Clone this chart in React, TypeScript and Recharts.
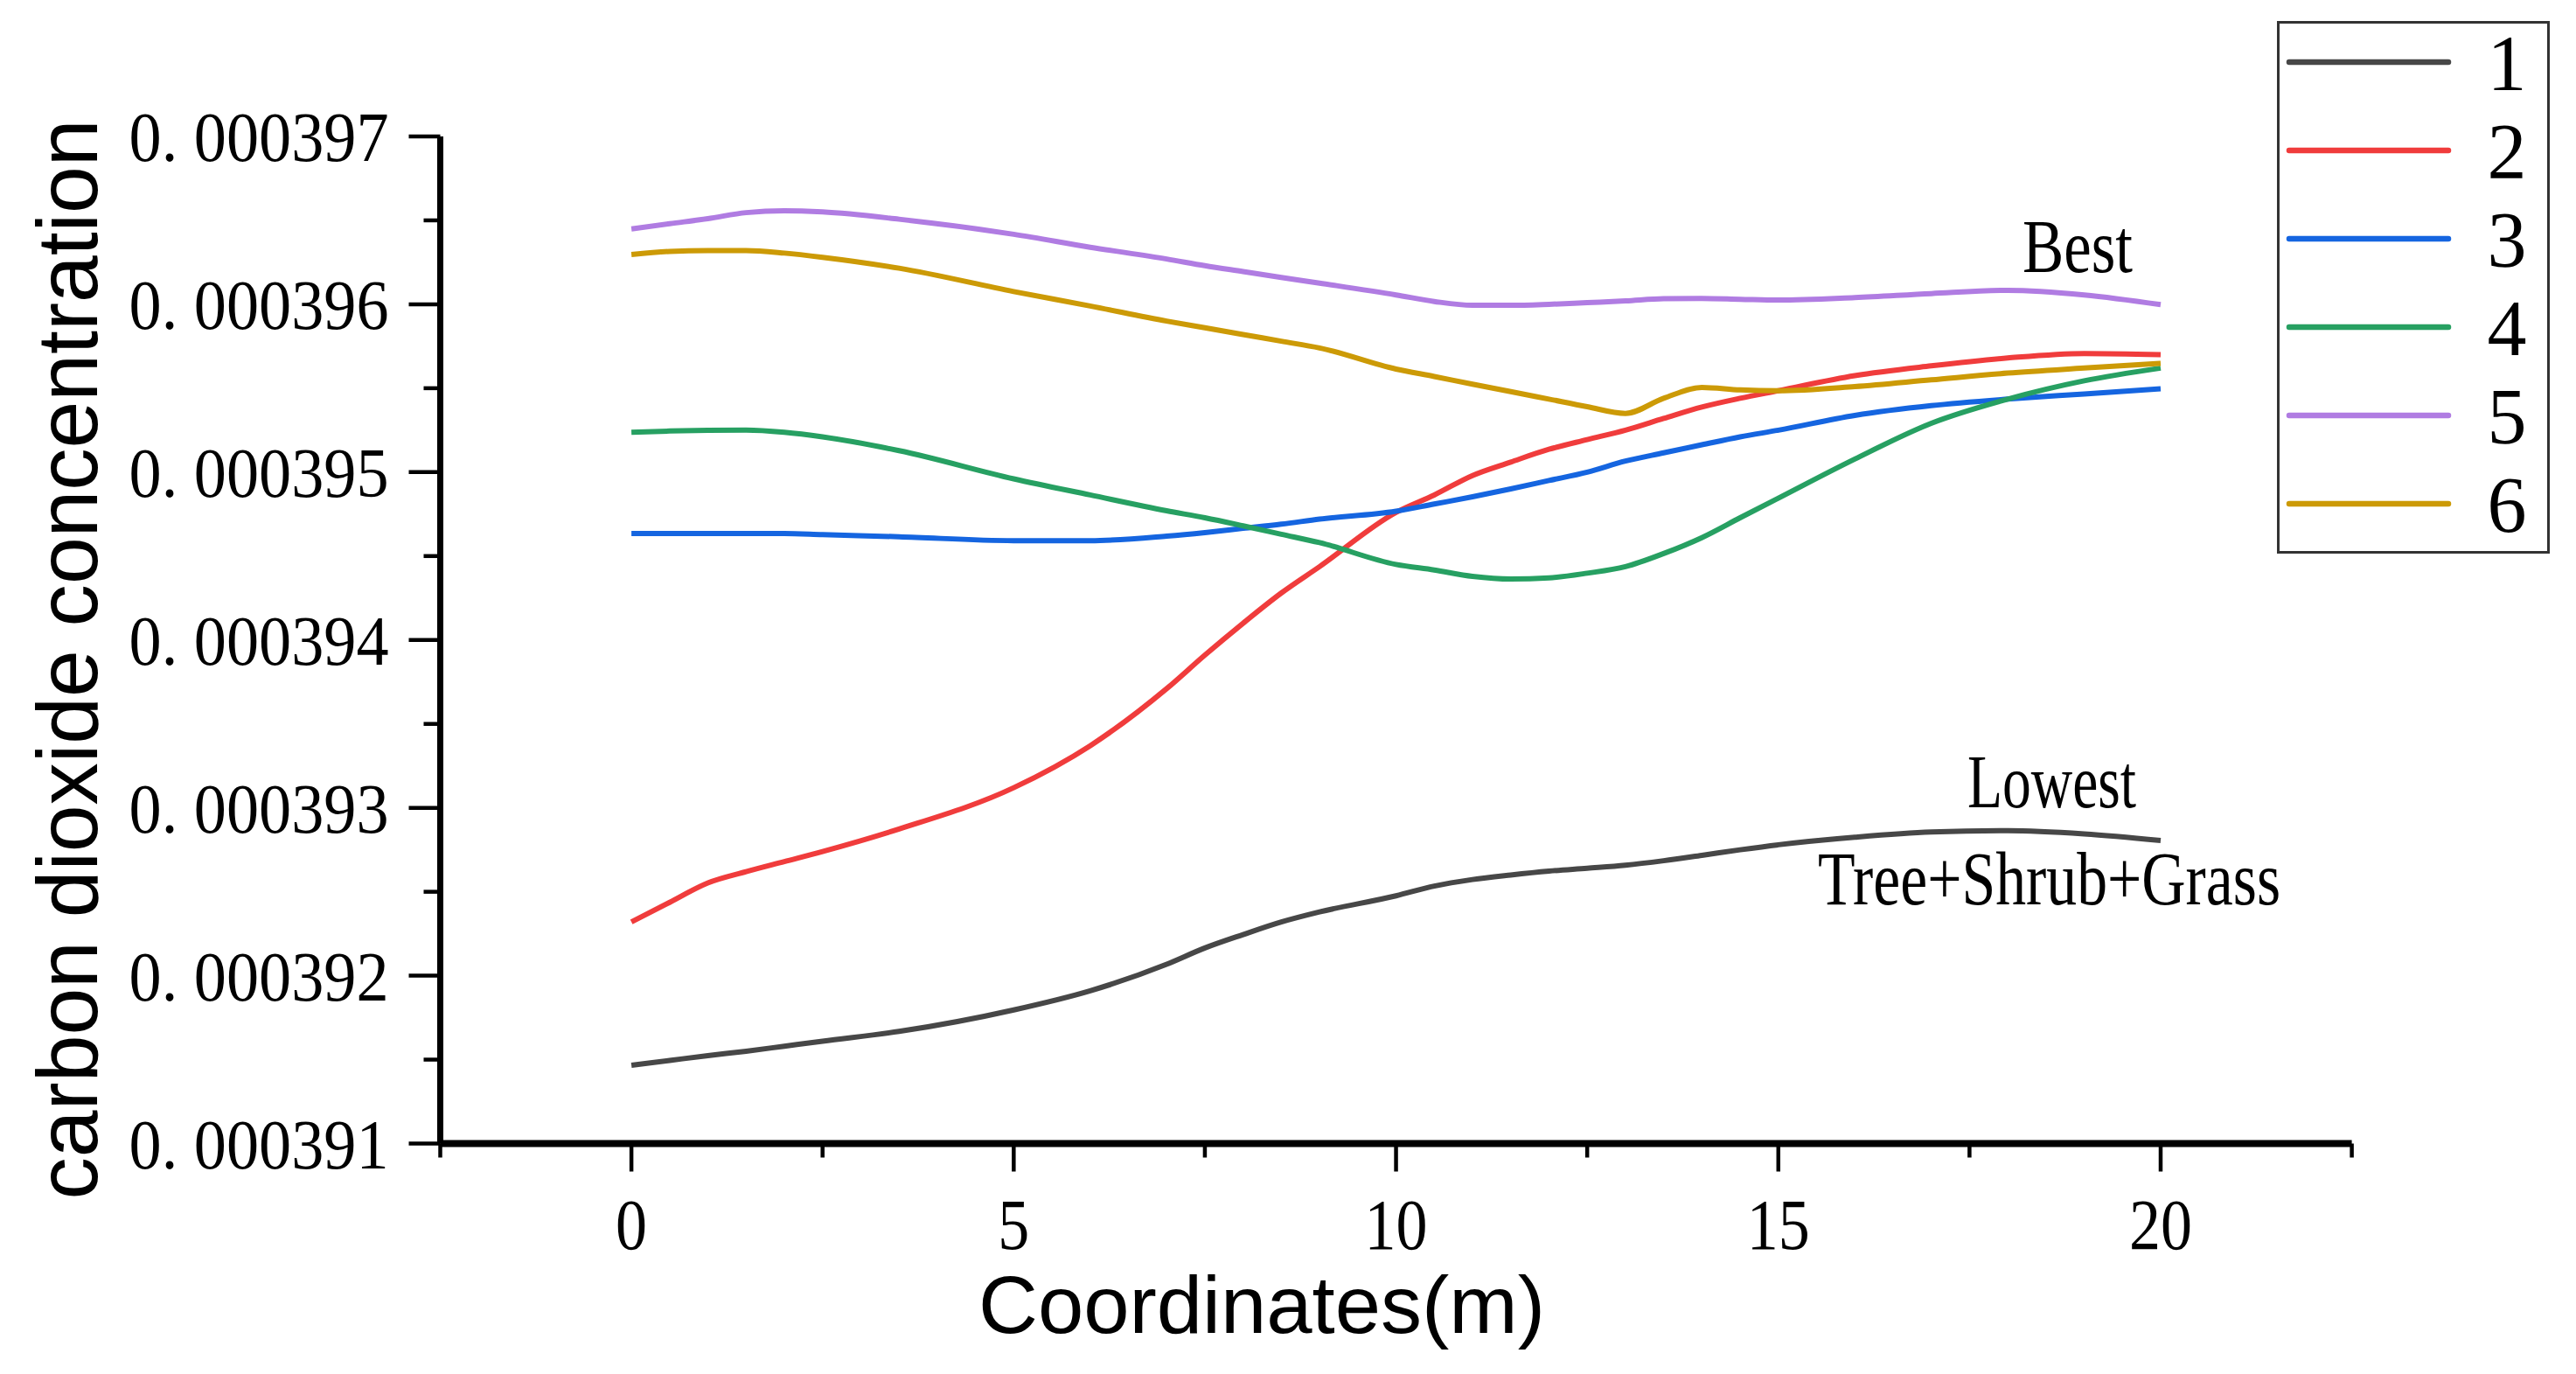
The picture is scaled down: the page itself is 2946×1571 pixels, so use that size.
import React from "react";
import { LineChart, Line, XAxis, YAxis, Legend, Customized } from "recharts";

// x coordinates (m)
const xs = [0, 0.5, 1, 1.5, 2, 2.5, 3.5, 5, 6, 7, 7.5, 8, 8.5, 9, 10, 10.5, 11, 11.5, 12, 12.5, 13, 13.5, 14, 14.5, 15, 16, 17, 18, 19, 20];

// concentrations in units of 1e-6 (e.g. 391.47 -> 0.00039147)
const s1 = [391.466, 391.495, 391.524, 391.55, 391.58, 391.61, 391.668, 391.796, 391.91, 392.068, 392.165, 392.245, 392.32, 392.38, 392.476, 392.534, 392.573, 392.6, 392.623, 392.64, 392.658, 392.685, 392.717, 392.75, 392.78, 392.825, 392.856, 392.864, 392.845, 392.806];
const s2 = [392.32, 392.437, 392.553, 392.62, 392.68, 392.74, 392.874, 393.12, 393.37, 393.71, 393.91, 394.1, 394.28, 394.437, 394.76, 394.864, 394.98, 395.06, 395.136, 395.194, 395.25, 395.32, 395.388, 395.44, 395.485, 395.575, 395.633, 395.68, 395.707, 395.7];
const s3 = [394.635, 394.635, 394.635, 394.635, 394.635, 394.628, 394.615, 394.592, 394.592, 394.619, 394.64, 394.665, 394.69, 394.72, 394.767, 394.81, 394.853, 394.9, 394.95, 395.0, 395.066, 395.115, 395.163, 395.21, 395.25, 395.338, 395.396, 395.435, 395.466, 395.497];
const s4 = [395.237, 395.245, 395.249, 395.25, 395.237, 395.21, 395.128, 394.96, 394.864, 394.77, 394.728, 394.68, 394.63, 394.58, 394.45, 394.417, 394.379, 394.363, 394.37, 394.398, 394.437, 394.515, 394.61, 394.728, 394.845, 395.078, 395.291, 395.435, 395.544, 395.62];
const s5 = [396.449, 396.48, 396.51, 396.546, 396.557, 396.55, 396.507, 396.417, 396.34, 396.27, 396.23, 396.195, 396.16, 396.126, 396.056, 396.017, 395.994, 395.994, 396.0, 396.01, 396.02, 396.033, 396.035, 396.03, 396.025, 396.04, 396.064, 396.083, 396.056, 395.998];
const s6 = [396.297, 396.315, 396.32, 396.32, 396.305, 396.28, 396.215, 396.076, 395.99, 395.9, 395.86, 395.82, 395.78, 395.74, 395.614, 395.57, 395.524, 395.48, 395.435, 395.39, 395.35, 395.44, 395.505, 395.49, 395.485, 395.51, 395.55, 395.59, 395.62, 395.648];

const seriesKeys = ["s1", "s2", "s3", "s4", "s5", "s6"];
const seriesNames = ["1", "2", "3", "4", "5", "6"];
const seriesColors = ["#474747", "#f03c3c", "#1565e0", "#27a062", "#b07ce2", "#cc9a06"];

const xTicks = [-2.5, 0, 2.5, 5, 7.5, 10, 12.5, 15, 17.5, 20, 22.5];
const xMajor = [0, 5, 10, 15, 20];
const yTicks = [391, 391.5, 392, 392.5, 393, 393.5, 394, 394.5, 395, 395.5, 396, 396.5, 397];
const yMajor = [391, 392, 393, 394, 395, 396, 397];
const yTickLabels = ["0. 000391", "0. 000392", "0. 000393", "0. 000394", "0. 000395", "0. 000396", "0. 000397"];

const annotations = [
  { text: "Best", x: 2305, y: 303, w: 126 },
  { text: "Lowest", x: 2242, y: 915, w: 193 },
  { text: "Tree+Shrub+Grass", x: 2071, y: 1026, w: 529 },
];

const data = xs.map((x, i) => ({ x, s1: s1[i], s2: s2[i], s3: s3[i], s4: s4[i], s5: s5[i], s6: s6[i] }));

const SERIF = "'Liberation Serif', 'DejaVu Serif', serif";
const SANS = "'Liberation Sans', Arial, sans-serif";

const XTick = (props: any) => {
  const { x, y, payload } = props;
  const v = payload.value;
  const major = xMajor.some((m) => Math.abs(m - v) < 1e-9);
  const label = String(v);
  return (
    <g>
      <line x1={x} x2={x} y1={y} y2={y + (major ? 32 : 16)} stroke="#000" strokeWidth={4.5} />
      {major && (
        <text
          x={x}
          y={y + 120}
          textAnchor="middle"
          fontFamily={SERIF}
          fontSize={82}
          fill="#000"
          textLength={36 * label.length}
          lengthAdjust="spacingAndGlyphs"
        >
          {label}
        </text>
      )}
    </g>
  );
};

const YTick = (props: any) => {
  const { x, y, payload } = props;
  const v = payload.value;
  const idx = yMajor.findIndex((m) => Math.abs(m - v) < 1e-9);
  const major = idx >= 0;
  return (
    <g>
      <line x1={x} x2={x - (major ? 36 : 19)} y1={y} y2={y} stroke="#000" strokeWidth={4.5} />
      {major && (
        <text
          x={x - 59}
          y={y}
          dy="0.35em"
          textAnchor="end"
          fontFamily={SERIF}
          fontSize={80}
          fill="#000"
          textLength={297}
          lengthAdjust="spacingAndGlyphs"
        >
          {yTickLabels[idx]}
        </text>
      )}
    </g>
  );
};

const Texts = () => (
  <g>
    <text
      x={103}
      y={746}
      transform="rotate(-90, 103, 746)"
      textAnchor="middle"
      fontFamily={SANS}
      fontSize={98}
      fill="#000"
      textLength={1235}
      lengthAdjust="spacingAndGlyphs"
    >
      carbon dioxide concentration
    </text>
    <text
      x={1111}
      y={1516}
      textAnchor="start"
      fontFamily={SANS}
      fontSize={92}
      fill="#000"
      textLength={648}
      lengthAdjust="spacingAndGlyphs"
    >
      Coordinates(m)
    </text>
    {annotations.map((a) => (
      <text
        key={a.text}
        x={a.x}
        y={a.y}
        fontFamily={SERIF}
        fontSize={86}
        fill="#000"
        textLength={a.w}
        lengthAdjust="spacingAndGlyphs"
      >
        {a.text}
      </text>
    ))}
  </g>
);

const LegendBox = () => (
  <svg width={312} height={609} style={{ display: "block" }}>
    <rect x={1.5} y={1.5} width={309} height={606} fill="#fff" stroke="#333" strokeWidth={3} />
    {seriesNames.map((n, i) => (
      <g key={n}>
        <line x1={14} x2={196} y1={47 + i * 101} y2={47 + i * 101} stroke={seriesColors[i]} strokeWidth={6.5} strokeLinecap="round" />
        <text x={263} y={47 + i * 101} dy="0.36em" textAnchor="middle" fontFamily={SERIF} fontSize={90} fill="#000">
          {n}
        </text>
      </g>
    ))}
  </svg>
);

export default function App() {
  return (
    <LineChart
      width={2930}
      height={1555}
      data={data}
      margin={{ top: 148, right: 248.4, bottom: 254.5, left: 494.5 }}
    >
      <XAxis
        dataKey="x"
        type="number"
        domain={[-2.5, 22.5]}
        ticks={xTicks}
        interval={0}
        height={1}
        tickSize={0}
        tickMargin={0}
        tickLine={false}
        axisLine={{ stroke: "#000", strokeWidth: 8 }}
        tick={<XTick />}
        allowDataOverflow
      />
      <YAxis
        type="number"
        domain={[391, 397]}
        ticks={yTicks}
        interval={0}
        width={1}
        tickSize={0}
        tickMargin={0}
        tickLine={false}
        axisLine={{ stroke: "#000", strokeWidth: 7 }}
        tick={<YTick />}
        allowDataOverflow
      />
      {seriesKeys.map((k, i) => (
        <Line
          key={k}
          dataKey={k}
          name={seriesNames[i]}
          type="monotone"
          stroke={seriesColors[i]}
          strokeWidth={6}
          dot={false}
          activeDot={false}
          isAnimationActive={false}
        />
      ))}
      <Legend
        layout="vertical"
        align="center"
        verticalAlign="middle"
        wrapperStyle={{ position: "absolute", left: 2596, top: 16, width: 312, height: 609 }}
        content={() => <LegendBox />}
      />
      <Customized component={<Texts />} />
    </LineChart>
  );
}
